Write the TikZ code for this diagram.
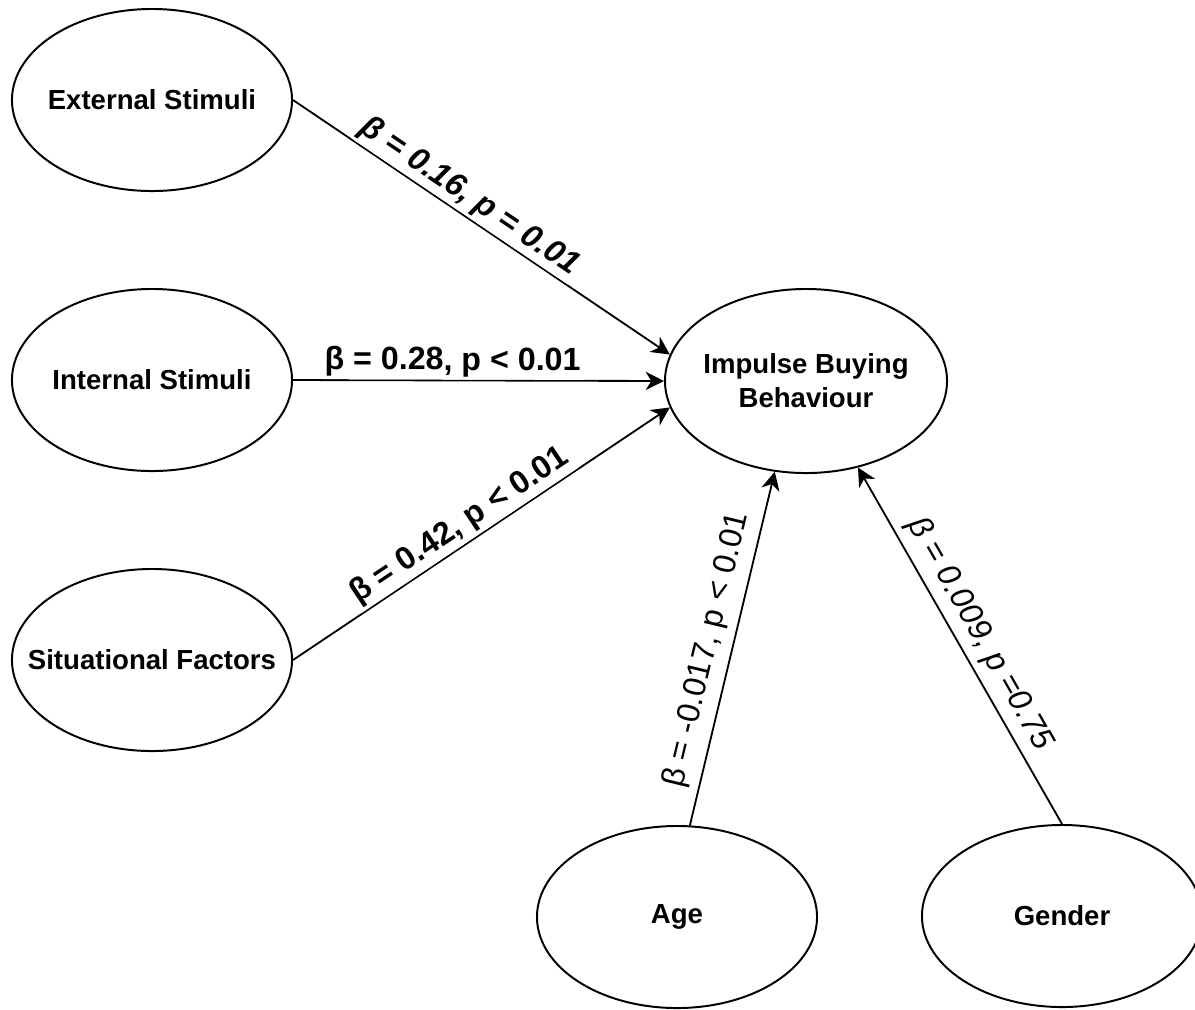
\documentclass[tikz,border=0pt]{standalone}
\usepackage{fontspec}
\setmainfont{Liberation Sans}
\usetikzlibrary{shapes.geometric,arrows.meta}

\tikzset{
  construct/.style={ellipse, draw, line width=1.4pt, minimum width=7cm, minimum height=4.55cm, inner sep=0pt},
  construct text/.style={font=\bfseries\fontsize{19.6}{24}\selectfont, align=center},
  path/.style={line width=1.3pt, -{Stealth[length=13pt, width=13pt, inset=4pt]}},
  coef/.style={sloped, above, fill=white, inner sep=2pt, font=\fontsize{22.9}{27}\selectfont\upshape\mdseries#1},
  coef/.default={},
}

\begin{document}
\begin{tikzpicture}[x=0.025cm, y=-0.025cm]
    \useasboundingbox (0,0) rectangle (1195,1009);

    % Constructs
    \node[construct, label={[construct text]center:External Stimuli}] (es) at (152,100) {};
    \node[construct, label={[construct text]center:Internal Stimuli}] (is) at (152,380) {};
    \node[construct, label={[construct text]center:Situational Factors}] (sf) at (152,660) {};
    \node[construct, minimum width=7.05cm, minimum height=4.6cm,
          label={[construct text]center:Impulse Buying\\Behaviour}] (ibb) at (806,381) {};
    \node[construct, label={[construct text]center:Age}] (age) at (677,917) {};
    \node[construct, label={[construct text]center:Gender}] (gen) at (1062,916) {};

    % Paths
    \draw[path] (es.east) -- node[coef=\bfseries\itshape, pos=0.44] {β = 0.16, p = 0.01} (ibb.169);
    \draw[path] (is.east) -- node[coef=\bfseries, pos=0.43] {β = 0.28, p < 0.01} (ibb.west);
    \draw[path] (sf.east) -- node[coef=\bfseries, pos=0.47] {β = 0.42, p < 0.01} (ibb.191);
    \draw[path] (age.82) -- node[coef, pos=0.48, above=4pt] {β = -0.017, p < 0.01} (ibb.251);
    \draw[path] (gen.north) -- node[coef=\itshape, pos=0.5, above=3pt] {β = 0.009, p =0.75} (ibb.301);
\end{tikzpicture}
\end{document}
